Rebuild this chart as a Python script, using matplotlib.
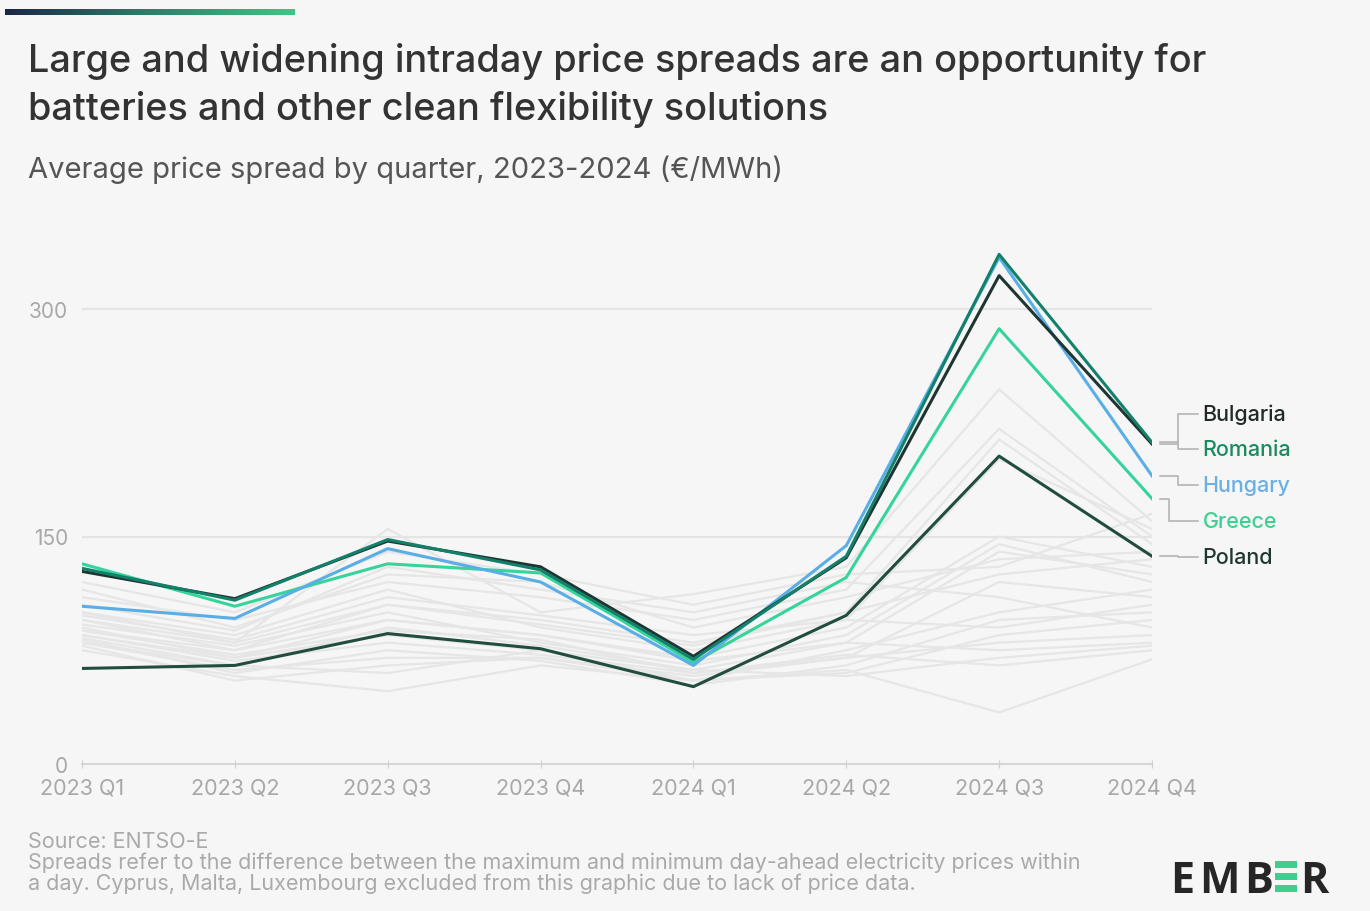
import matplotlib
matplotlib.use("Agg")
import matplotlib.pyplot as plt
import numpy as np
from matplotlib.patches import Rectangle
from matplotlib.colors import LinearSegmentedColormap

plt.rcParams['font.family'] = ['Inter', 'DejaVu Sans']

quarters = ["2023 Q1", "2023 Q2", "2023 Q3", "2023 Q4",
            "2024 Q1", "2024 Q2", "2024 Q3", "2024 Q4"]

# highlighted countries (€/MWh)
bulgaria = [127, 109, 147, 130, 71, 136, 322, 211]
romania = [129, 108, 148, 128, 69, 137, 336, 212]
hungary = [104, 96, 142, 120, 65, 144, 334, 190]
greece = [132, 104, 132, 126, 67, 123, 287, 175]
poland = [63, 65, 86, 76, 51, 98, 203, 137]

# remaining countries
others = [
    [95, 80, 155, 100, 112, 130, 247, 160],
    [110, 95, 120, 110, 95, 115, 221, 150],
    [88, 75, 105, 95, 80, 100, 214, 145],
    [100, 85, 115, 90, 75, 95, 201, 155],
    [85, 70, 95, 85, 70, 90, 150, 130],
    [92, 78, 100, 80, 65, 85, 145, 120],
    [80, 65, 90, 78, 62, 80, 140, 125],
    [115, 90, 125, 120, 90, 110, 135, 140],
    [78, 55, 65, 70, 58, 70, 120, 110],
    [90, 70, 85, 75, 55, 75, 100, 115],
    [82, 60, 75, 68, 52, 65, 95, 100],
    [98, 82, 110, 98, 85, 95, 90, 105],
    [75, 58, 48, 65, 55, 60, 85, 95],
    [105, 88, 130, 115, 100, 120, 110, 90],
    [85, 68, 80, 72, 60, 70, 80, 85],
    [120, 100, 140, 125, 105, 125, 130, 165],
    [80, 62, 70, 70, 55, 62, 34, 69],
    [95, 75, 95, 85, 68, 80, 75, 80],
    [88, 72, 88, 82, 60, 72, 65, 75],
    [100, 80, 105, 92, 78, 100, 125, 135],
    [83, 65, 60, 75, 62, 58, 70, 78],
]

highlight_names = ["Bulgaria", "Romania", "Hungary", "Greece", "Poland"]
highlight_values = [bulgaria, romania, hungary, greece, poland]
line_colors = ["#1f3531", "#13806a", "#5aaee6", "#35d49a", "#214d3f"]
label_colors = ["#222a28", "#1c8a60", "#6ab0e2", "#3fcf90", "#21382f"]
label_y = [231, 208, 184, 160, 136.5]

BG = "#f6f6f6"
W, H = 1370, 912
fig = plt.figure(figsize=(W / 100, H / 100), dpi=100, facecolor=BG)

# top accent bar
bar_ax = fig.add_axes([5 / W, 1 - 16 / H, 290 / W, 6 / H])
cmap = LinearSegmentedColormap.from_list("acc", ["#1b2746", "#2f7f6a", "#40c585"])
bar_ax.imshow(np.linspace(0, 1, 256)[None, :], aspect="auto", cmap=cmap)
bar_ax.axis("off")

x0, x1 = 82, 1152
y0px, ppu = 765, 455 / 300
ymax = 345
ax = fig.add_axes([x0 / W, 1 - y0px / H, (x1 - x0) / W, ymax * ppu / H])
ax.set_facecolor(BG)
ax.set_xlim(0, 7)
ax.set_ylim(0, ymax)
x = np.arange(len(quarters))

for gy in (150, 300):
    ax.axhline(gy, color="#e4e4e4", lw=1.6, zorder=0)

for row in others:
    ax.plot(x, row, color="#e6e6e6", lw=1.6, zorder=1)

order = [4, 3, 2, 0, 1]
for i in order:
    ax.plot(x, highlight_values[i], color=line_colors[i], lw=2.2, zorder=3)

for s in ["top", "right", "left"]:
    ax.spines[s].set_visible(False)
ax.spines["bottom"].set_color("#cfcfcf")
ax.spines["bottom"].set_linewidth(1.2)
ax.set_xticks(x)
ax.set_xticklabels(quarters)
ax.set_yticks([0, 150, 300])
ax.set_yticklabels(["0", "150", "300"])
ax.tick_params(axis="x", length=6, color="#cfcfcf", labelcolor="#a8a8a8",
               labelsize=15.5, pad=7, direction="inout")
ax.tick_params(axis="y", length=0, labelcolor="#a8a8a8", labelsize=15, pad=10)

# connectors and end labels
xs, xm, xe, xt = 7.05, 7.17, 7.30, 7.33
conn = dict(color="#b5b5b5", lw=1.2, clip_on=False, zorder=2)
for i, name in enumerate(highlight_names):
    v = highlight_values[i][-1]
    mid = 7.11 if name == "Greece" else xm
    ax.plot([xs, mid, mid, xe], [v, v, label_y[i], label_y[i]], **conn)
    ax.text(xt, label_y[i], name, color=label_colors[i], fontsize=15.5,
            fontweight="medium", va="center", ha="left", clip_on=False)

# titles
fig.text(28 / W, 1 - 62 / H, "Large and widening intraday price spreads are an opportunity for",
         fontsize=27.3, fontweight="medium", color="#333333", va="center", ha="left")
fig.text(28 / W, 1 - 110 / H, "batteries and other clean flexibility solutions",
         fontsize=27.3, fontweight="medium", color="#333333", va="center", ha="left")
fig.text(28 / W, 1 - 170 / H, "Average price spread by quarter, 2023-2024 (€/MWh)",
         fontsize=21, color="#555555", va="center", ha="left")

# footer
foot = dict(fontsize=15.5, color="#aaaaaa", va="center", ha="left")
fig.text(28 / W, 1 - 842 / H, "Source: ENTSO-E", **foot)
fig.text(28 / W, 1 - 863 / H, "Spreads refer to the difference between the maximum and minimum day-ahead electricity prices within", **foot)
fig.text(28 / W, 1 - 884 / H, "a day. Cyprus, Malta, Luxembourg excluded from this graphic due to lack of price data.", **foot)

# logo
logo = dict(fontsize=31, fontweight="bold", color="#262626", va="baseline",
            ha="left", family=["Open Sans", "DejaVu Sans"])
for letter, lx in (("E", 1170), ("M", 1199), ("B", 1244), ("R", 1300)):
    fig.text(lx / W, 1 - 893 / H, letter, **logo)
for top in (862, 874, 886):
    fig.add_artist(Rectangle((1275 / W, 1 - (top + 7) / H), 22 / W, 7 / H,
                             transform=fig.transFigure, color="#3ecf8e", lw=0))

fig.savefig("out.png", dpi=100, facecolor=BG)
